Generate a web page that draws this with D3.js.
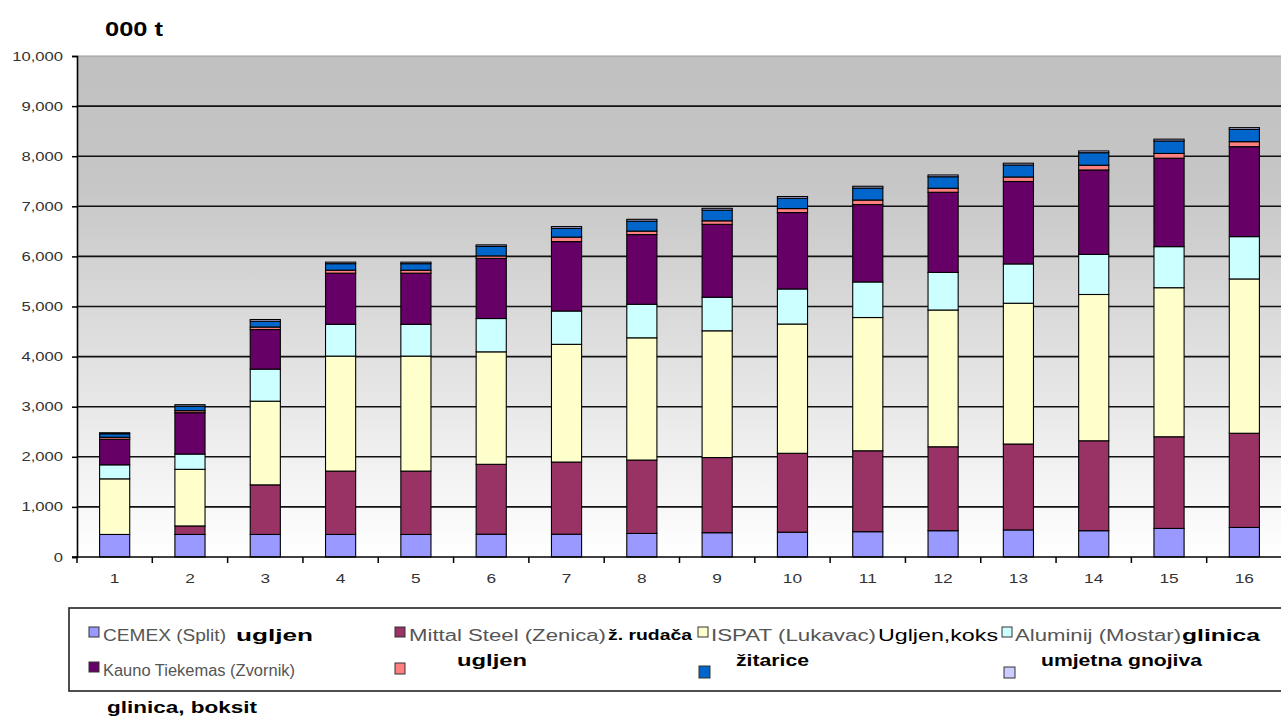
<!DOCTYPE html>
<html><head><meta charset="utf-8">
<script src="https://cdn.jsdelivr.net/npm/d3@7"></script>
<style>
html,body{margin:0;padding:0;background:#fff;}
svg{display:block;font-family:Arial,"Liberation Sans",sans-serif;}
</style></head>
<body>
<svg id="chart" width="1281" height="717"></svg>
<script>
// ---- data ----
const categories = ["1","2","3","4","5","6","7","8","9","10","11","12","13","14","15","16"];
const cemex    = [450,450,450,450,450,455,455,470,485,495,505,525,540,525,570,590];
const mittal   = [0,170,990,1265,1265,1395,1440,1465,1500,1575,1615,1675,1715,1795,1830,1880];
const ispat    = [1110,1130,1670,2295,2295,2245,2350,2440,2530,2580,2660,2730,2810,2920,2975,3080];
const aluminij = [280,305,640,635,635,665,665,670,670,700,710,750,785,800,820,845];
const kauno    = [510,825,790,1020,1020,1200,1385,1390,1455,1525,1545,1600,1645,1685,1765,1795];
const ugljen   = [40,40,50,60,60,50,90,70,70,80,90,80,90,95,95,100];
const zitarice = [70,90,115,130,130,190,175,200,215,205,240,230,240,250,250,245];
const gnojiva  = [20,30,35,30,30,30,35,35,35,35,35,35,35,35,35,35];
const yTicks   = [0,1000,2000,3000,4000,5000,6000,7000,8000,9000,10000];

const seriesKeys = ["cemex","mittal","ispat","aluminij","kauno","ugljen","zitarice","gnojiva"];
const seriesData = {cemex,mittal,ispat,aluminij,kauno,ugljen,zitarice,gnojiva};
const colors = {cemex:"#9999FF",mittal:"#993366",ispat:"#FFFFCC",aluminij:"#CCFFFF",
  kauno:"#660066",ugljen:"#FF8080",zitarice:"#0066CC",gnojiva:"#CCCCFF"};

const rows = categories.map((c,i)=>{const o={cat:c};seriesKeys.forEach(k=>o[k]=seriesData[k][i]);return o;});
const stacked = d3.stack().keys(seriesKeys)(rows);

const svg = d3.select("#chart");
const STRETCH = 1.33;
function stretchText(sel, f){ sel.each(function(){ const L=this.getComputedTextLength(); d3.select(this).attr("textLength",L*f).attr("lengthAdjust","spacingAndGlyphs"); }); }

const pL=77, pR=1282, pT=56, pB=557;
const x = d3.scaleBand().domain(categories).range([pL,pR]).paddingInner(0.6).paddingOuter(0.3);
const y = d3.scaleLinear().domain([0,10000]).range([pB,pT]);

// background gradient
const defs = svg.append("defs");
const grad = defs.append("linearGradient").attr("id","bg").attr("x1",0).attr("y1",0).attr("x2",0).attr("y2",1);
grad.append("stop").attr("offset","0%").attr("stop-color","#C0C0C0");
grad.append("stop").attr("offset","25%").attr("stop-color","#C6C6C6");
grad.append("stop").attr("offset","100%").attr("stop-color","#FFFFFF");
svg.append("rect").attr("x",pL).attr("y",pT).attr("width",pR-pL).attr("height",pB-pT).attr("fill","url(#bg)");

// gridlines
svg.append("g").selectAll("line").data(yTicks.filter(d=>d>0)).join("line")
  .attr("x1",pL).attr("x2",pR).attr("y1",d=>y(d)).attr("y2",d=>y(d))
  .attr("stroke",d=>d===10000?"#9a9a9a":"#111").attr("stroke-width",d=>d===10000?1:1.6);

// bars
svg.append("g").selectAll("g").data(stacked).join("g").attr("fill",d=>colors[d.key])
  .selectAll("rect").data(d=>d.filter(s=>s[1]-s[0]>0)).join("rect")
  .attr("x",d=>x(d.data.cat)).attr("width",x.bandwidth())
  .attr("y",d=>y(d[1])).attr("height",d=>y(d[0])-y(d[1]))
  .attr("stroke","#000").attr("stroke-width",1.1);

// y axis
const yAxis = svg.append("g").attr("transform",`translate(${pL},0)`)
  .call(d3.axisLeft(y).tickValues(yTicks).tickFormat(d3.format(",")).tickSize(5).tickPadding(9));
yAxis.select(".domain").attr("stroke","#000").attr("stroke-width",1.6);
yAxis.selectAll(".tick line").attr("stroke","#000").attr("stroke-width",1.5);
yAxis.selectAll("text").attr("font-size",12.5).attr("fill","#333").call(stretchText,STRETCH);

// x axis
const xAxis = svg.append("g").attr("transform",`translate(0,${pB})`)
  .call(d3.axisBottom(x).tickSize(0).tickPadding(17));
xAxis.select(".domain").remove();
xAxis.selectAll("text").attr("font-size",13).attr("fill","#333").call(stretchText,STRETCH);
svg.append("line").attr("x1",pL-5).attr("x2",pR).attr("y1",pB).attr("y2",pB).attr("stroke","#000").attr("stroke-width",1.6);
const bounds = categories.map(c=>x(c)-x.step()*x.paddingOuter());
svg.append("g").selectAll("line").data(bounds).join("line")
  .attr("x1",d=>d).attr("x2",d=>d).attr("y1",pB).attr("y2",pB+6).attr("stroke","#000").attr("stroke-width",1.5);

// title
svg.append("text").attr("x",105).attr("y",36).attr("font-size",20).attr("font-weight","bold").attr("fill","#000")
  .text("000 t").attr("textLength",58).attr("lengthAdjust","spacingAndGlyphs");

// legend
svg.append("rect").attr("x",69).attr("y",608).attr("width",1240).attr("height",83)
  .attr("fill","#fff").attr("stroke","#222").attr("stroke-width",1.6);

const legendSwatches = [
  {k:"cemex",x:89,y:627,w:10,h:10},{k:"mittal",x:395,y:627,w:10,h:10},
  {k:"ispat",x:698,y:627,w:10,h:10},{k:"aluminij",x:1002,y:627,w:10,h:10},
  {k:"kauno",x:89,y:662,w:10,h:10},{k:"ugljen",x:395,y:663,w:10,h:11},
  {k:"zitarice",x:699,y:666,w:11,h:12},{k:"gnojiva",x:1004,y:667,w:11,h:11}];
svg.append("g").selectAll("rect").data(legendSwatches).join("rect")
  .attr("x",d=>d.x).attr("y",d=>d.y).attr("width",d=>d.w).attr("height",d=>d.h)
  .attr("fill",d=>colors[d.k]).attr("stroke","#333").attr("stroke-width",1);

const legendTexts = [
  {t:"CEMEX (Split)",x:103,y:641,len:123,gray:true},
  {t:"ugljen",x:236,y:641,len:77,bold:true},
  {t:"Mittal Steel (Zenica)",x:409,y:641,len:197,gray:true},
  {t:"ž. rudača",x:608,y:640,len:84,bold:true,size:14},
  {t:"ISPAT (Lukavac)",x:711,y:641,len:165,gray:true},
  {t:"Ugljen,koks",x:878,y:641,len:120},
  {t:"Aluminij (Mostar)",x:1015,y:641,len:166,gray:true},
  {t:"glinica",x:1182,y:641,len:78,bold:true},
  {t:"Kauno Tiekemas (Zvornik)",x:103,y:676,len:192,gray:true},
  {t:"ugljen",x:457,y:666,len:70,bold:true},
  {t:"žitarice",x:736,y:666,len:73,bold:true},
  {t:"umjetna gnojiva",x:1041,y:666,len:161,bold:true},
  {t:"glinica, boksit",x:107,y:713,len:150,bold:true}];
svg.append("g").selectAll("text").data(legendTexts).join("text")
  .attr("x",d=>d.x).attr("y",d=>d.y)
  .attr("font-size",d=>d.size||16).attr("font-weight",d=>d.bold?"bold":"normal")
  .attr("fill",d=>d.gray?"#555":"#000")
  .attr("textLength",d=>d.len).attr("lengthAdjust","spacingAndGlyphs")
  .text(d=>d.t);
</script>
</body></html>
